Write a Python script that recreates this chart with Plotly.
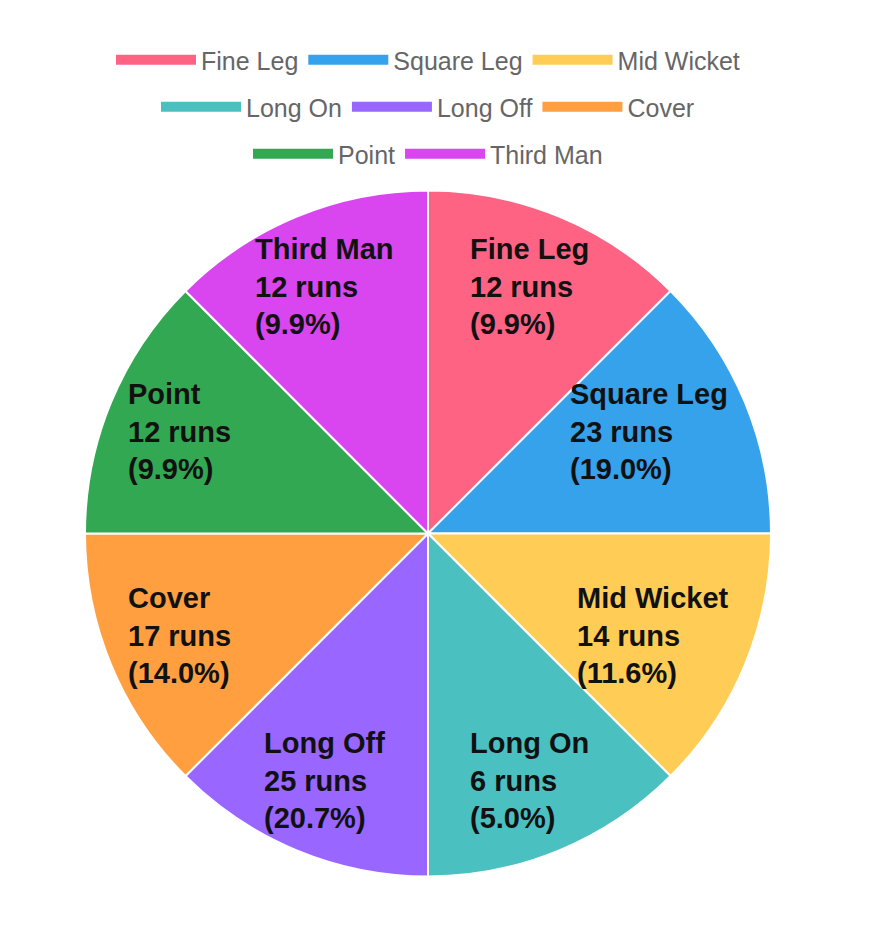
import math
import plotly.graph_objects as go

# ---- data ----
zones = ["Fine Leg", "Square Leg", "Mid Wicket", "Long On",
         "Long Off", "Cover", "Point", "Third Man"]
runs = [12, 23, 14, 6, 25, 17, 12, 12]
zone_span = [1, 1, 1, 1, 1, 1, 1, 1]          # wagon-wheel sectors are equal
colors = ["#FF6384", "#36A2EB", "#FFCD56", "#4BC0C0",
          "#9966FF", "#FF9F40", "#32A852", "#D946EF"]
legend_row = [1, 1, 1, 2, 2, 2, 3, 3]

W, H = 891, 928
OFF = 8                       # default page body margin
total = sum(runs)
pct = [r / total * 100 for r in runs]

# pie placement (figure pixels)
left, right, top, bottom = 85 - OFF, 771 - OFF, 190 - OFF, 877 - OFF
dom_x = [left / W, right / W]
dom_y = [1 - bottom / H, 1 - top / H]
cx = (left + right) / 2
cy = (top + bottom) / 2
R = min(right - left, bottom - top) / 2

LABEL_SIZE = 29
PAD = 42
TEXT_INSET = 3                # annotation inner padding
# approximate Arial/Liberation Sans Bold advance widths (per 1000 em)
AW = {" ": 278, "(": 333, ")": 333, "%": 889, ".": 278, "F": 611, "i": 278,
      "n": 611, "e": 556, "L": 611, "g": 611, "S": 667, "q": 611, "u": 611,
      "a": 556, "r": 389, "M": 833, "d": 611, "W": 944, "c": 556, "k": 556,
      "t": 333, "o": 611, "O": 778, "f": 333, "C": 722, "P": 667, "T": 611,
      "h": 611, "s": 556, "v": 556}


def text_w(s):
    return sum(AW.get(ch, 556) for ch in s) / 1000 * LABEL_SIZE


fig = go.Figure()
fig.add_trace(go.Pie(
    labels=zones, values=zone_span, sort=False, direction="clockwise",
    rotation=0, marker=dict(colors=colors, line=dict(color="white", width=2)),
    textinfo="none", hoverinfo="label", showlegend=False,
    domain=dict(x=dom_x, y=dom_y),
))

# labels at slice mid-angles (kept inside the chart box)
span_total = sum(zone_span)
cum = 0
annotations = []
for z, r, p, s in zip(zones, runs, pct, zone_span):
    mid = (cum + s / 2) / span_total * 2 * math.pi
    cum += s
    f = 0.78
    px = cx + R * f * math.sin(mid)
    py = cy - R * f * math.cos(mid)
    lines = [z, f"{r} runs", f"({p:.1f}%)"]
    w = max(text_w(t) for t in lines)
    x0 = px - w / 2
    x0 = max(left + PAD, min(x0, right - PAD - w)) - TEXT_INSET
    annotations.append(dict(
        x=x0 / W, y=1 - py / H, xref="paper", yref="paper",
        text="<br>".join(lines), showarrow=False,
        align="left", xanchor="left", yanchor="middle",
        font=dict(family="Liberation Sans, Arial, sans-serif", size=LABEL_SIZE,
                  color="#111111", weight="bold"),
    ))

# legend entries (dummy line traces for wide colour boxes)
for z, c, row in zip(zones, colors, legend_row):
    fig.add_trace(go.Scatter(
        x=[None], y=[None], mode="lines", name=z,
        line=dict(color=c, width=20),
        legend="legend" if row == 1 else f"legend{row}",
        hoverinfo="skip",
    ))

leg_common = dict(orientation="h", xanchor="center", x=(428 - OFF) / W,
                  yanchor="middle",
                  font=dict(family="Liberation Sans, Arial, sans-serif",
                            size=25, color="#666666"),
                  itemwidth=80, bgcolor="rgba(0,0,0,0)")
row_y = {1: 1 - (60 - OFF) / H, 2: 1 - (107 - OFF) / H, 3: 1 - (154 - OFF) / H}

fig.update_layout(
    width=W, height=H, margin=dict(l=0, r=0, t=0, b=0),
    paper_bgcolor="white", plot_bgcolor="white",
    xaxis=dict(visible=False), yaxis=dict(visible=False),
    legend=dict(**leg_common, y=row_y[1]),
    legend2=dict(**leg_common, y=row_y[2]),
    legend3=dict(**leg_common, y=row_y[3]),
    annotations=annotations,
)

fig.write_html("out.html")
